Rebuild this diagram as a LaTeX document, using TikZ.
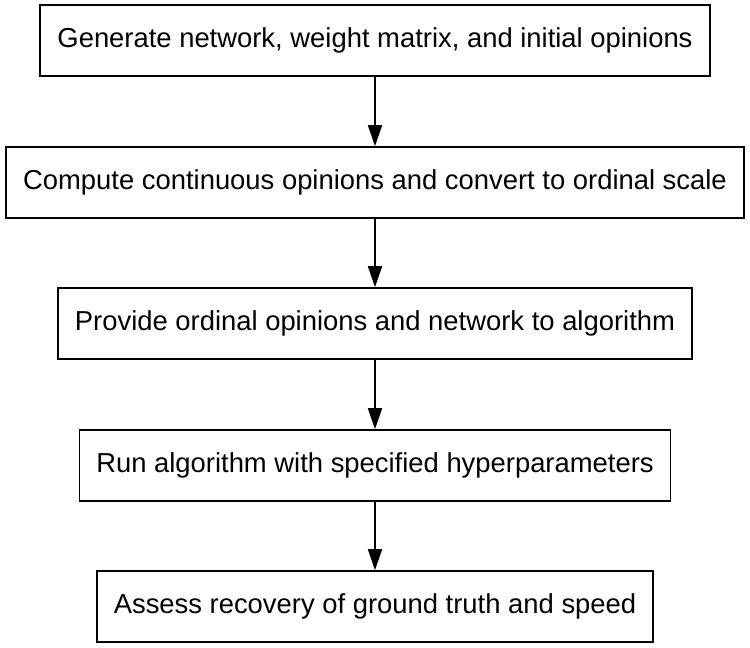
\documentclass[tikz,border=0pt]{standalone}
\usepackage{fontspec}
\setmainfont{Liberation Sans}
\usetikzlibrary{arrows.meta}
\begin{document}
\begin{tikzpicture}[x=1pt,y=-1pt,
  stepbox/.style={draw=black, line width=1.6pt, minimum height=71pt, inner sep=0pt, font=\fontsize{27.4}{32}\selectfont},
  flow/.style={line width=1.6pt, -{Triangle[length=21pt,width=14pt]}}]
\useasboundingbox (0,0) rectangle (750,648);
\node[stepbox, minimum width=670pt] (a) at (375,40.5) {Generate network, weight matrix, and initial opinions};
\node[stepbox, minimum width=738pt] (b) at (375,182.5) {Compute continuous opinions and convert to ordinal scale};
\node[stepbox, minimum width=634pt] (c) at (375,323.5) {Provide ordinal opinions and network to algorithm};
\node[stepbox, minimum width=591pt] (d) at (375,465.5) {Run algorithm with specified hyperparameters};
\node[stepbox, minimum width=556pt] (e) at (375,606.5) {Assess recovery of ground truth and speed};
\draw[flow] (a) -- (b);
\draw[flow] (b) -- (c);
\draw[flow] (c) -- (d);
\draw[flow] (d) -- (e);
\end{tikzpicture}
\end{document}
